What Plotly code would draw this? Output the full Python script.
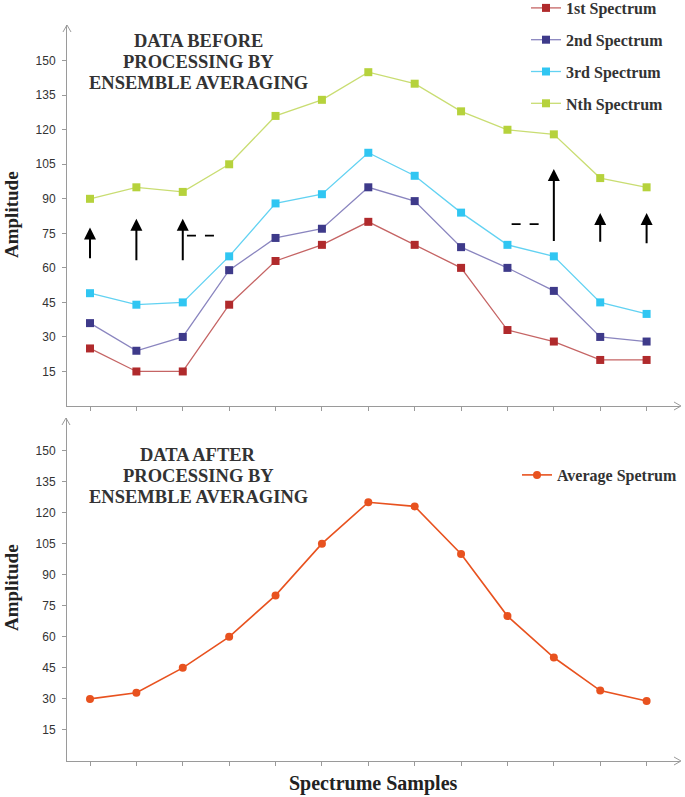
import plotly.graph_objects as go

W, H = 685, 797

# ---- data ----
samples = list(range(1, 14))
first_spec = [25, 15, 15, 44, 63, 70, 80, 70, 60, 33, 28, 20, 20]
second_spec = [36, 24, 30, 59, 73, 77, 95, 89, 69, 60, 50, 30, 28]
third_spec = [49, 44, 45, 65, 88, 92, 110, 100, 84, 70, 65, 45, 40]
nth_spec = [90, 95, 93, 105, 126, 133, 145, 140, 128, 120, 118, 99, 95]
avg_spec = [30, 33, 45, 60, 80, 105, 125, 123, 100, 70, 50, 34, 29]
y_ticks = [15, 30, 45, 60, 75, 90, 105, 120, 135, 150]

# black "shift" arrows in the top panel: x, tail, tip
arrow_x = [1, 2, 3, 11, 12, 13]
arrow_tail = [63.5, 62.7, 62.7, 71, 70.7, 70]
arrow_tip = [77.5, 81.3, 81.3, 103, 83.8, 83.8]
# dashed markers: x0, x1, y
dash_x0 = [3.09, 10.09]
dash_x1 = [3.84, 10.84]
dash_y = [74, 79]

serif = "Liberation Serif"
sans = "Liberation Sans"


def px(x):
    return x / W


def py(y):
    return 1 - y / H


series = [
    ("1st Spectrum", first_spec, "#b02a2c", "#c56464"),
    ("2nd Spectrum", second_spec, "#3e3a8a", "#8a85bf"),
    ("3rd Spectrum", third_spec, "#30c6f2", "#62d2f2"),
    ("Nth Spectrum", nth_spec, "#b6d23c", "#c9dd72"),
]

fig = go.Figure()
for i, (name, vals, mcol, lcol) in enumerate(series):
    fig.add_trace(go.Scatter(
        x=samples, y=vals, name="<b>%s</b>" % name, mode="lines+markers",
        line=dict(color=lcol, width=1.3),
        marker=dict(symbol="square", size=8, color=mcol),
        legendgroup="g%d" % i, legend="legend",
        xaxis="x", yaxis="y",
    ))

fig.add_trace(go.Scatter(
    x=samples, y=avg_spec, name="<b>Average Spetrum</b>", mode="lines+markers",
    line=dict(color="#e8521f", width=1.6),
    marker=dict(symbol="circle", size=8, color="#e8521f"),
    legend="legend2", xaxis="x2", yaxis="y2",
))

axis_col = "#9a9a9a"
xcommon = dict(range=[0.504, 13.72], showline=True, linecolor=axis_col, linewidth=1,
               ticks="outside", ticklen=4, tickcolor=axis_col, tickvals=samples,
               showticklabels=False, showgrid=False, zeroline=False,
               domain=[px(67), px(680)], fixedrange=True)
ycommon = dict(showline=True, linecolor=axis_col, linewidth=1, ticks="outside",
               ticklen=4, tickcolor=axis_col, tickvals=y_ticks, ticklabelstandoff=4,
               tickfont=dict(family=sans, size=12, color="#333333"),
               showgrid=False, zeroline=False, fixedrange=True)

title_font = dict(family=serif, size=18.5, color="#333333")
annotations = []
for txt, yy in [("DATA BEFORE", 29), ("PROCESSING BY", 50), ("ENSEMBLE AVERAGING", 71),
                ("DATA AFTER", 455), ("PROCESSING BY", 476), ("ENSEMBLE AVERAGING", 497)]:
    annotations.append(dict(text="<b>%s</b>" % txt, x=px(198), y=py(yy), xanchor="center",
                            xref="paper", yref="paper", showarrow=False, font=title_font))
annotations += [
    dict(text="<b>Amplitude</b>", x=px(11), y=py(215), xref="paper", yref="paper",
         xanchor="center", yanchor="middle",
         textangle=-90, showarrow=False, font=dict(family=serif, size=19, color="#222222")),
    dict(text="<b>Amplitude</b>", x=px(11), y=py(588), xref="paper", yref="paper",
         xanchor="center", yanchor="middle",
         textangle=-90, showarrow=False, font=dict(family=serif, size=19, color="#222222")),
    dict(text="<b>Spectrume Samples</b>", x=px(374), y=py(783), xref="paper", yref="paper",
         xanchor="center", yanchor="middle",
         showarrow=False, font=dict(family=serif, size=20, color="#222222")),
]
for ax_, t0, t1 in zip(arrow_x, arrow_tail, arrow_tip):
    annotations.append(dict(
        x=ax_, y=t1, ax=ax_, ay=t0, xref="x", yref="y", axref="x", ayref="y",
        showarrow=True, arrowhead=2, arrowsize=1.2, arrowwidth=2, arrowcolor="black",
        text="",
    ))

shapes = []
for x0, x1, yv in zip(dash_x0, dash_x1, dash_y):
    shapes.append(dict(type="line", xref="x", yref="y", x0=x0, x1=x1, y0=yv, y1=yv,
                       line=dict(color="black", width=1.6, dash="dash")))


# open chevrons at the axis ends
def chev(points):
    d = "M%.5f,%.5f L%.5f,%.5f L%.5f,%.5f" % tuple(v for p in points for v in (px(p[0]), py(p[1])))
    return dict(type="path", xref="paper", yref="paper", path=d,
                line=dict(color=axis_col, width=1))


shapes += [
    chev([(63, 32), (67, 25), (71, 32)]),
    chev([(674, 402), (681, 406), (674, 410)]),
    chev([(62, 425), (66, 418), (70, 425)]),
    chev([(674, 757), (681, 761), (674, 765)]),
]

fig.update_layout(
    width=W, height=H, margin=dict(l=0, r=0, t=0, b=0, autoexpand=False),
    paper_bgcolor="white", plot_bgcolor="white",
    xaxis=dict(xcommon, anchor="y"),
    yaxis=dict(ycommon, range=[0, 165.5], domain=[py(406), py(25)], anchor="x"),
    xaxis2=dict(xcommon, anchor="y2"),
    yaxis2=dict(ycommon, range=[0, 165.7], domain=[py(761), py(418)], anchor="x2"),
    legend=dict(x=px(526), y=py(-9), xanchor="left", yanchor="top",
                font=dict(family=serif, size=16, color="#333333"),
                tracegroupgap=8, bgcolor="rgba(0,0,0,0)"),
    legend2=dict(x=px(517), y=py(458), xanchor="left", yanchor="top",
                 font=dict(family=serif, size=16, color="#333333"),
                 bgcolor="rgba(0,0,0,0)"),
    annotations=annotations, shapes=shapes,
)

# drop the default page margin so the figure fills the window exactly
fig.write_html("out.html", config={"displayModeBar": False},
               post_script="document.body.style.margin='0';")
